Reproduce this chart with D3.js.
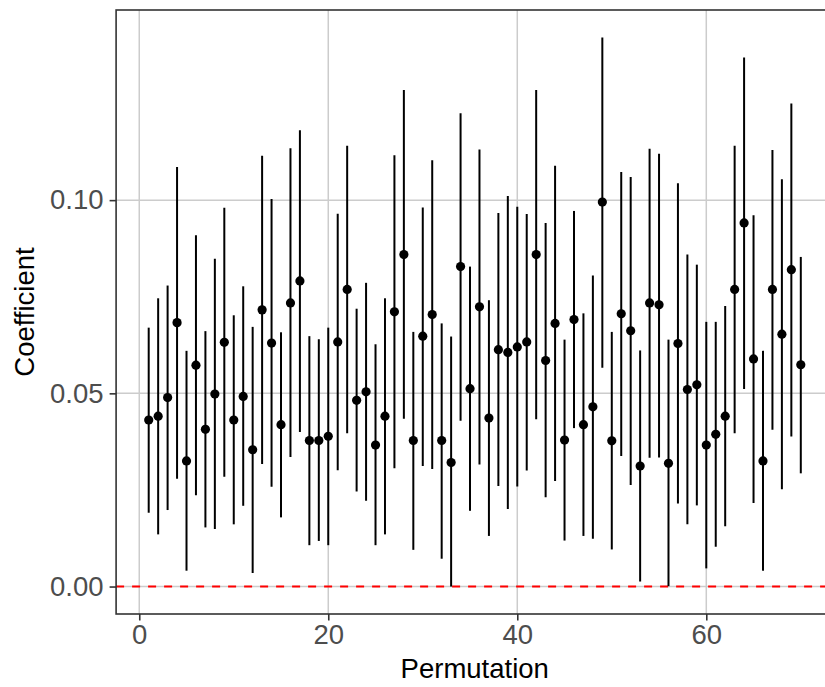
<!DOCTYPE html>
<html>
<head>
<meta charset="utf-8">
<script src="https://cdn.jsdelivr.net/npm/d3@7"></script>
<style>
  body { margin: 0; background: #fff; }
  svg { display: block; font-family: "Liberation Sans", Arial, sans-serif; }
</style>
</head>
<body>
<div id="chart"></div>
<script>

var permutation = [1,2,3,4,5,6,7,8,9,10,11,12,13,14,15,16,17,18,19,20,
  21,22,23,24,25,26,27,28,29,30,31,32,33,34,35,36,37,38,39,40,
  41,42,43,44,45,46,47,48,49,50,51,52,53,54,55,56,57,58,59,60,
  61,62,63,64,65,66,67,68,69,70];

var estimate = [0.0431,0.0441,0.0489,0.0683,0.0325,0.0573,0.0407,0.0498,0.0632,0.0431,
  0.0492,0.0354,0.0716,0.0630,0.0419,0.0734,0.0791,0.0378,0.0378,0.0389,
  0.0633,0.0769,0.0482,0.0504,0.0366,0.0441,0.0711,0.0859,0.0378,0.0648,
  0.0704,0.0378,0.0321,0.0828,0.0512,0.0724,0.0436,0.0613,0.0606,0.0620,
  0.0633,0.0859,0.0585,0.0681,0.0379,0.0691,0.0419,0.0465,0.0995,0.0377,
  0.0706,0.0662,0.0312,0.0734,0.0729,0.0319,0.0629,0.0510,0.0522,0.0366,
  0.0394,0.0441,0.0769,0.0941,0.0589,0.0325,0.0769,0.0653,0.0820,0.0574];

var lower = [0.0191,0.0135,0.0198,0.0279,0.0041,0.0236,0.0153,0.0149,0.0284,0.0161,
  0.0209,0.0035,0.0317,0.0258,0.0179,0.0335,0.0400,0.0107,0.0118,0.0107,
  0.0301,0.0397,0.0246,0.0222,0.0107,0.0135,0.0306,0.0434,0.0095,0.0312,
  0.0304,0.0072,0.0000,0.0429,0.0196,0.0316,0.0131,0.0260,0.0201,0.0259,
  0.0300,0.0433,0.0231,0.0273,0.0119,0.0410,0.0131,0.0124,0.0566,0.0096,
  0.0338,0.0263,0.0013,0.0333,0.0334,0.0001,0.0215,0.0161,0.0210,0.0047,
  0.0103,0.0156,0.0397,0.0511,0.0216,0.0041,0.0406,0.0252,0.0388,0.0293];

var upper = [0.0670,0.0746,0.0779,0.1086,0.0610,0.0909,0.0661,0.0848,0.0980,0.0702,
  0.0777,0.0672,0.1115,0.1003,0.0658,0.1134,0.1181,0.0648,0.0640,0.0670,
  0.0965,0.1141,0.0719,0.0786,0.0627,0.0746,0.1116,0.1285,0.0659,0.0981,
  0.1103,0.0681,0.0647,0.1225,0.0828,0.1131,0.0741,0.0967,0.1011,0.0983,
  0.0964,0.1285,0.0941,0.1089,0.0639,0.0972,0.0707,0.0805,0.1421,0.0659,
  0.1073,0.1060,0.0611,0.1133,0.1120,0.0639,0.1044,0.0859,0.0833,0.0685,
  0.0685,0.0726,0.1141,0.1369,0.0961,0.0610,0.1130,0.1054,0.1250,0.0853];

var xTicks = [0, 20, 40, 60],
    yTicks = [0, 0.05, 0.10],
    refLine = 0;

var width = 825, height = 687,
    panel = {left: 116.1, right: 833.4, top: 10, bottom: 614},
    fontSize = "27.5px";

var svg = d3.select("#chart").append("svg")
    .attr("width", width)
    .attr("height", height);

// ggplot-style 5% expansion of the data range
var xMin = d3.min(permutation), xMax = d3.max(permutation),
    xPad = (xMax - xMin) * 0.05;
var yMin = d3.min(lower), yMax = d3.max(upper),
    yPad = (yMax - yMin) * 0.05;

var x = d3.scaleLinear()
    .domain([xMin - xPad, xMax + xPad])
    .range([panel.left, panel.right]);

var y = d3.scaleLinear()
    .domain([yMin - yPad, yMax + yPad])
    .range([panel.bottom, panel.top]);

var data = permutation.map(function(p, i) {
  return {p: p, est: estimate[i], lo: lower[i], hi: upper[i]};
});

svg.append("rect")
    .attr("x", panel.left)
    .attr("y", panel.top)
    .attr("width", panel.right - panel.left)
    .attr("height", panel.bottom - panel.top)
    .attr("fill", "#fff");

// grid
var grid = svg.append("g");
grid.selectAll("line.gx").data(xTicks).enter().append("line")
    .attr("x1", x).attr("x2", x)
    .attr("y1", panel.top).attr("y2", panel.bottom)
    .attr("stroke", "#cccccc").attr("stroke-width", 1.5);
grid.selectAll("line.gy").data(yTicks).enter().append("line")
    .attr("y1", y).attr("y2", y)
    .attr("x1", panel.left).attr("x2", panel.right)
    .attr("stroke", "#cccccc").attr("stroke-width", 1.5);

// reference line at zero
svg.append("line")
    .attr("x1", panel.left).attr("x2", panel.right)
    .attr("y1", y(refLine)).attr("y2", y(refLine))
    .attr("stroke", "#ff0000")
    .attr("stroke-width", 2)
    .attr("stroke-dasharray", "8,8");

// error bars and points
svg.append("g").selectAll("line").data(data).enter().append("line")
    .attr("x1", function(d) { return x(d.p); })
    .attr("x2", function(d) { return x(d.p); })
    .attr("y1", function(d) { return y(d.lo); })
    .attr("y2", function(d) { return y(d.hi); })
    .attr("stroke", "#000")
    .attr("stroke-width", 2);

svg.append("g").selectAll("circle").data(data).enter().append("circle")
    .attr("cx", function(d) { return x(d.p); })
    .attr("cy", function(d) { return y(d.est); })
    .attr("r", 4.6)
    .attr("fill", "#000");

// panel border
svg.append("rect")
    .attr("x", panel.left)
    .attr("y", panel.top)
    .attr("width", panel.right - panel.left)
    .attr("height", panel.bottom - panel.top)
    .attr("fill", "none")
    .attr("stroke", "#333")
    .attr("stroke-width", 1.6);

// axes
var xAxis = svg.append("g")
    .attr("transform", "translate(0," + panel.bottom + ")")
    .call(d3.axisBottom(x).tickValues(xTicks).tickSize(6.5).tickPadding(4).tickFormat(d3.format("d")));

var yAxis = svg.append("g")
    .attr("transform", "translate(" + panel.left + ",0)")
    .call(d3.axisLeft(y).tickValues(yTicks).tickSize(6.5).tickPadding(6).tickFormat(d3.format(".2f")));

[xAxis, yAxis].forEach(function(a) {
  a.select(".domain").remove();
  a.selectAll(".tick line").attr("stroke", "#333").attr("stroke-width", 1.6);
  a.selectAll(".tick text")
      .attr("fill", "#4d4d4d")
      .style("font-size", fontSize)
      .style("font-family", "'Liberation Sans', Arial, sans-serif");
});

svg.append("text")
    .attr("x", (panel.left + panel.right) / 2)
    .attr("y", 678)
    .attr("text-anchor", "middle")
    .style("font-size", fontSize)
    .attr("fill", "#000")
    .text("Permutation");

svg.append("text")
    .attr("transform", "translate(34," + (panel.top + panel.bottom) / 2 + ") rotate(-90)")
    .attr("text-anchor", "middle")
    .style("font-size", fontSize)
    .attr("fill", "#000")
    .text("Coefficient");

</script>
</body>
</html>
